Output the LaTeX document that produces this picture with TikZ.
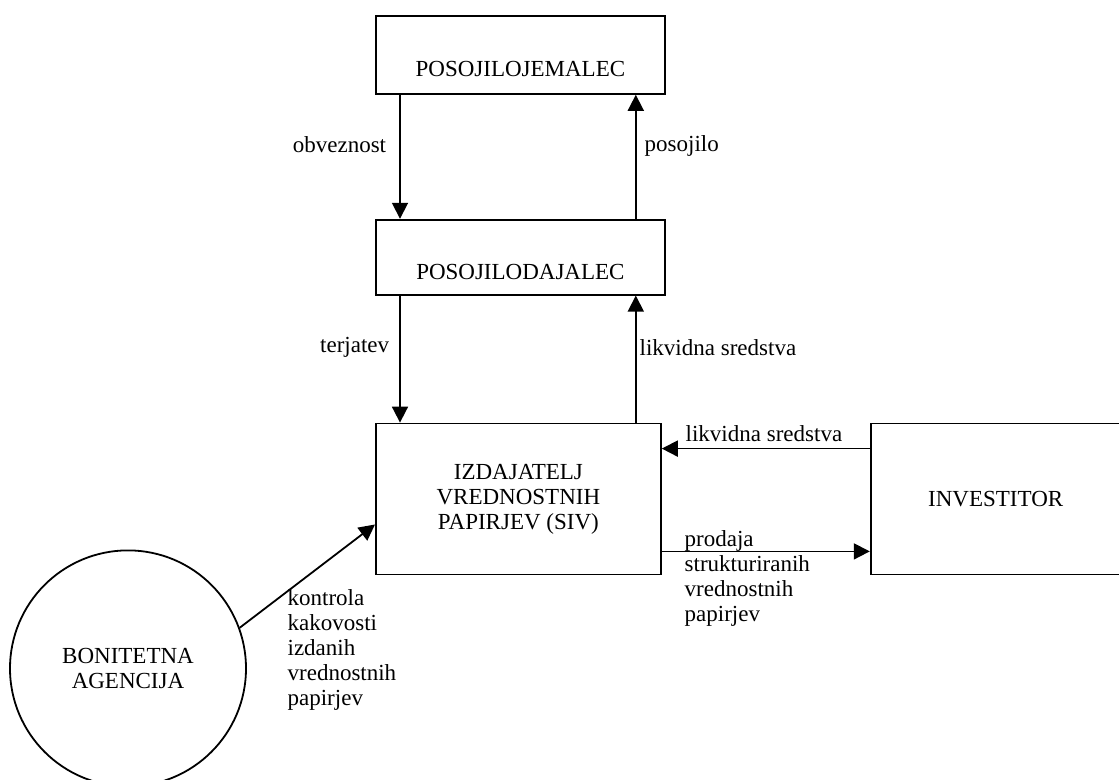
\documentclass[tikz,border=0pt]{standalone}
\usepackage{fontspec}
\setmainfont{Liberation Serif}
\usetikzlibrary{arrows.meta,positioning,shapes.geometric}

\begin{document}
\begin{tikzpicture}[
  font=\fontsize{11.5}{12.5}\selectfont,
  box/.style={draw, line width=0.9pt, align=center, inner sep=3pt},
  arr/.style={-{Triangle[length=8pt,width=8pt]}, line width=0.9pt},
  lbl/.style={inner sep=0pt, align=left}
]
\useasboundingbox (0,0) rectangle (559.5pt,-390pt);
\node[box, anchor=north west, minimum width=144.5pt, minimum height=39pt, text height=22pt, text depth=0pt] (jemalec) at (187.5pt,-7.5pt) {POSOJILOJEMALEC};
\node[box, below=62pt of jemalec, minimum width=144.5pt, minimum height=37.5pt, text height=22.5pt, text depth=0pt] (dajalec) {POSOJILODAJALEC};
\node[box, below=63.5pt of dajalec.south west, anchor=north west, minimum width=142.5pt, minimum height=75.5pt] (siv) {IZDAJATELJ\\VREDNOSTNIH\\PAPIRJEV (SIV)};
\node[box, right=104pt of siv, minimum width=125pt, minimum height=75.5pt] (investitor) {INVESTITOR};
\node[box, circle, minimum size=118pt, below left=46.5pt and 123.5pt of siv.south west, anchor=center] (bonitetna) {BONITETNA\\AGENCIJA};
\draw[arr] ([xshift=12.5pt]jemalec.south west) -- ([xshift=12.5pt]dajalec.north west) node[lbl, pos=0.4, left=6.5pt] (lobv) {obveznost};
\draw[arr] ([xshift=-15pt]dajalec.north east) -- ([xshift=-15pt]jemalec.south east) node[lbl, pos=0.59, right=4pt] (lpos) {posojilo};
\draw[arr] ([xshift=12.5pt]dajalec.south west) -- ([xshift=12.5pt]siv.north west) node[lbl, pos=0.41, left=5pt] (lter) {terjatev};
\draw[arr] ([xshift=-13pt]siv.north east) -- ([xshift=-15pt]dajalec.south east) node[lbl, pos=0.59, right=1.5pt] (lliq) {likvidna sredstva};
\draw[arr] ([yshift=-13pt]investitor.north west) -- ([yshift=-13pt]siv.north east) node[lbl, pos=1, anchor=south west, xshift=11.5pt, yshift=3pt] (lliq2) {likvidna sredstva};
\draw[arr] ([yshift=12pt]siv.south east) -- ([yshift=12pt]investitor.south west) node[lbl, pos=0, anchor=north west, xshift=11pt, yshift=11pt] (lprod) {prodaja\\strukturiranih\\vrednostnih\\papirjev};
\draw[arr] (bonitetna.20) -- ([yshift=-12.75pt]siv.west) node[lbl, pos=0, anchor=north west, xshift=23.5pt, yshift=19.5pt] (lkon) {kontrola\\kakovosti\\izdanih\\vrednostnih\\papirjev};
\end{tikzpicture}
\end{document}
